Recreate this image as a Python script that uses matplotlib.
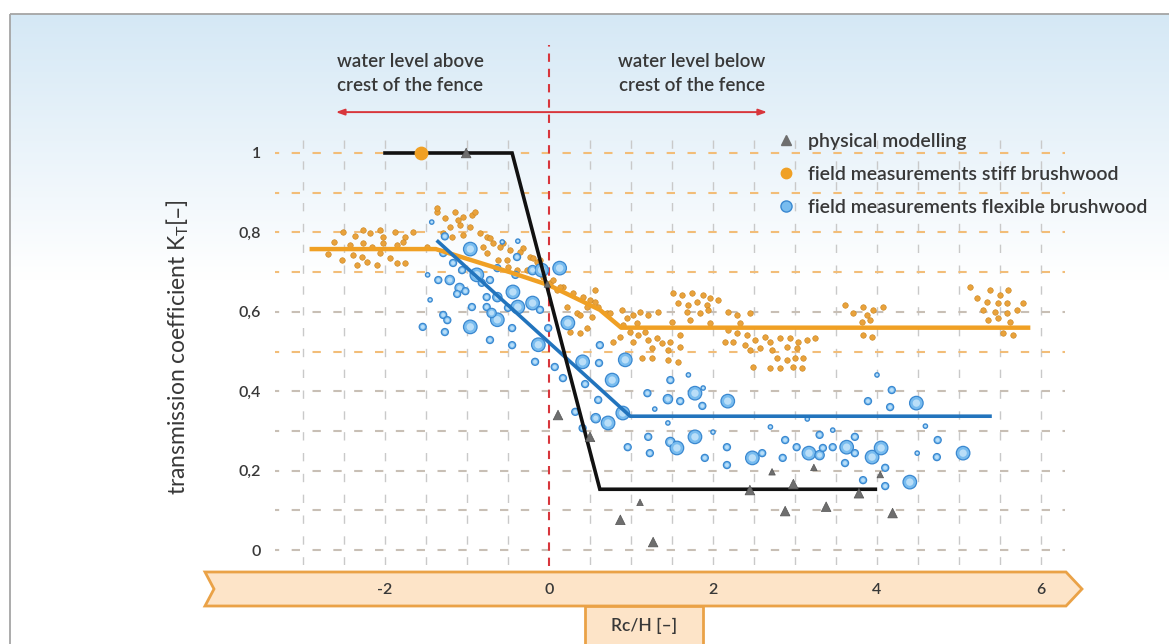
import numpy as np
import matplotlib
matplotlib.use("Agg")
import matplotlib.pyplot as plt
from matplotlib.patches import Polygon
from matplotlib.lines import Line2D

plt.rcParams['font.family'] = ['Lato', 'DejaVu Sans']
plt.rcParams['font.weight'] = 'semibold'
plt.rcParams['mathtext.default'] = 'regular'
plt.rcParams['lines.scale_dashes'] = False

# ---------------- data ----------------
x_ticks = [-2, 0, 2, 4, 6]
x_tick_labels = ['-2', '0', '2', '4', '6']
y_ticks = [0, 0.2, 0.4, 0.6, 0.8, 1.0]
y_tick_labels = ['0', '0,2', '0,4', '0,6', '0,8', '1']

# fitted lines
phys_fit_x = [-2.0, -0.45, 0.62, 3.98]
phys_fit_y = [1.0, 1.0, 0.153, 0.153]
stiff_fit_x = [-2.92, -1.38, -0.48, 0.0, 0.62, 0.88, 5.87]
stiff_fit_y = [0.758, 0.758, 0.700, 0.667, 0.605, 0.560, 0.560]
flex_fit_x = [-1.37, 0.99, 5.40]
flex_fit_y = [0.780, 0.337, 0.337]

# physical modelling (triangles)
tri_x = [-1.01, -0.02, 0.11, 0.50, 0.87, 1.11, 1.27, 2.45, 2.72, 2.88, 2.98, 3.23, 3.38, 3.78, 4.04, 4.19]
tri_y = [1.00, 0.67, 0.34, 0.285, 0.076, 0.12, 0.02, 0.151, 0.197, 0.098, 0.166, 0.208, 0.109, 0.143, 0.19, 0.093]
tri_big = [1, 0, 1, 1, 1, 0, 1, 1, 0, 1, 1, 0, 1, 1, 0, 1]

# stiff brushwood reference point on the K=1 plateau
stiff_ref_x = [-1.56]
stiff_ref_y = [1.0]

# field measurements stiff brushwood (small orange dots)
orange_x = [
    -2.51, -2.37, -2.27, -2.18, -2.06, -2.02, -1.88, -1.76, -1.66,
    -2.43, -2.27, -2.16, -2.02, -1.85, -1.78,
    -2.52, -2.39, -2.28, -2.22, -2.06, -1.94, -1.85, -1.76, -2.34, -2.10, -1.49, -2.62, -2.70,
    -1.37, -1.27, -1.15, -1.05, -0.94, -1.21, -1.09, -0.96, -1.29, -1.18, -1.05, -0.84, -0.76,
    -0.68, -0.56, -0.80, -0.48, -0.32, -0.23, -0.62, -0.50, -0.39, -0.27, -0.15, -0.07, 0.01,
    0.10, 0.17, 0.29, 0.41, 0.46, 0.34, 0.22, 0.52,
    -1.37, -0.90, -1.11, -0.72, -0.60, -0.35, -0.20, -0.76, -0.51, -0.11, 0.05, 0.13,
    0.50, 0.60, 0.38, 0.71, 0.26, 0.38, 0.46,
    0.56, 0.56, 0.74, 0.89, 0.95, 1.02, 1.11, 1.21, 1.33, 0.90, 1.07, 0.99, 1.09, 1.17, 0.87,
    0.78, 1.02, 1.21, 1.32, 1.38, 1.48, 1.26, 1.45, 1.13, 1.26, 1.45, 1.57, 1.60,
    1.51, 1.62, 1.74, 1.88, 1.96, 2.06, 1.57, 1.70, 1.80, 1.93, 1.68, 1.84, 1.94, 1.50, 1.72,
    1.96, 1.60,
    2.18, 2.29, 2.45, 2.33, 2.18, 2.29, 2.41, 2.15, 2.24, 2.39, 2.51, 2.63, 2.70, 2.45, 2.57,
    2.72, 2.82, 2.94, 3.04, 3.15, 3.24, 2.90, 3.02, 2.78, 2.90, 3.00, 3.10, 2.70, 2.82, 2.98,
    3.09, 2.49,
    3.61, 3.83, 3.95, 4.07, 3.71, 3.88, 3.82, 3.91, 3.83, 3.94,
    5.13, 5.38, 5.50, 5.60, 5.22, 5.34, 5.48, 5.59, 5.78, 5.29, 5.44, 5.59, 5.71, 5.35, 5.48,
    5.62, 5.54, 5.66,
]
orange_y = [
    0.801, 0.791, 0.806, 0.798, 0.806, 0.788, 0.801, 0.788, 0.801,
    0.768, 0.773, 0.763, 0.773, 0.768, 0.776,
    0.730, 0.743, 0.738, 0.725, 0.748, 0.736, 0.723, 0.723, 0.718, 0.718, 0.763, 0.775, 0.745,
    0.851, 0.836, 0.851, 0.839, 0.844, 0.814, 0.819, 0.814, 0.798, 0.788, 0.793, 0.798, 0.788,
    0.773, 0.773, 0.763, 0.756, 0.761, 0.738, 0.730, 0.713, 0.705, 0.705, 0.725, 0.688, 0.673,
    0.655, 0.662, 0.647, 0.637, 0.612, 0.597, 0.612, 0.587,
    0.861, 0.851, 0.831, 0.786, 0.763, 0.751, 0.736, 0.748, 0.730, 0.730, 0.680, 0.662,
    0.630, 0.612, 0.592, 0.597, 0.549, 0.547, 0.559,
    0.655, 0.625, 0.597, 0.605, 0.584, 0.592, 0.599, 0.592, 0.599, 0.567, 0.572, 0.549, 0.542, 0.549, 0.537,
    0.524, 0.524, 0.529, 0.534, 0.521, 0.524, 0.509, 0.504, 0.484, 0.484, 0.479, 0.474, 0.511,
    0.647, 0.642, 0.647, 0.642, 0.635, 0.630, 0.622, 0.617, 0.625, 0.617, 0.599, 0.597, 0.605, 0.574, 0.579,
    0.572, 0.542,
    0.599, 0.592, 0.597, 0.572, 0.554, 0.547, 0.542, 0.524, 0.524, 0.516, 0.529, 0.537, 0.524, 0.504, 0.509,
    0.504, 0.534, 0.534, 0.524, 0.529, 0.534, 0.511, 0.509, 0.484, 0.479, 0.484, 0.484, 0.458, 0.458, 0.461,
    0.458, 0.461,
    0.617, 0.612, 0.605, 0.612, 0.597, 0.592, 0.574, 0.579, 0.542, 0.537,
    0.662, 0.655, 0.642, 0.655, 0.635, 0.625, 0.622, 0.622, 0.622, 0.605, 0.599, 0.597, 0.605, 0.579, 0.584,
    0.574, 0.547, 0.542,
]

# field measurements flexible brushwood (blue circles; size class L/M/S/T)
blue_x = [
    -1.43, -1.27, -0.96, -1.29, -1.17, -1.06, -1.35, -1.21, -1.09, -1.02, -1.12, -1.48, -0.88,
    -0.72, -0.82, -0.63, -0.57, -0.38, -0.39, -0.41, -0.44, -0.20, -0.09, 0.13, -0.63, -0.76,
    -0.76, -0.94, -0.63, -0.70, -0.50, -0.38, -0.20, -0.11, 0.23, -1.45, -1.29, -1.24, -1.54,
    -1.27, -0.96, -0.72, -0.45, -0.45, -0.13, -0.01, -0.17,
    0.07, 0.62, 0.93, 0.41, 0.61, 0.77, 0.17, 0.44, 0.60, 0.32, 0.57, 0.72, 0.90, 0.41,
    1.20, 1.29, 1.45, 1.60, 1.78, 1.87, 1.88, 1.70, 1.48, 2.18, 1.45, 1.21, 0.96, 1.23, 1.48,
    1.56, 1.78, 2.00, 1.90, 2.17, 2.17, 2.48, 2.60, 2.70, 2.85, 2.88, 3.02, 3.17, 3.30, 3.34,
    3.30, 3.46, 3.46, 3.63, 3.73, 3.73, 3.61, 3.94, 4.05, 4.10, 3.83, 4.10, 4.40, 3.89, 4.16,
    4.18, 4.48, 4.00, 4.59, 4.74, 4.73, 5.05, 3.15, 4.49,
]
blue_y = [
    0.826, 0.790, 0.758, 0.748, 0.723, 0.705, 0.680, 0.680, 0.660, 0.652, 0.645, 0.693, 0.693,
    0.680, 0.673, 0.710, 0.776, 0.778, 0.738, 0.693, 0.650, 0.705, 0.705, 0.710, 0.637, 0.637,
    0.612, 0.612, 0.580, 0.597, 0.610, 0.612, 0.622, 0.605, 0.572, 0.630, 0.592, 0.579, 0.562,
    0.549, 0.562, 0.529, 0.559, 0.516, 0.517, 0.559, 0.474,
    0.461, 0.516, 0.479, 0.474, 0.471, 0.428, 0.433, 0.418, 0.378, 0.348, 0.332, 0.320, 0.345, 0.307,
    0.395, 0.355, 0.380, 0.375, 0.395, 0.363, 0.408, 0.441, 0.428, 0.375, 0.320, 0.285, 0.259, 0.244, 0.272,
    0.257, 0.285, 0.297, 0.232, 0.259, 0.214, 0.232, 0.244, 0.310, 0.232, 0.277, 0.259, 0.244, 0.239, 0.257,
    0.290, 0.302, 0.259, 0.259, 0.285, 0.244, 0.219, 0.234, 0.257, 0.207, 0.176, 0.161, 0.171, 0.375, 0.360,
    0.403, 0.370, 0.441, 0.312, 0.277, 0.234, 0.244, 0.330, 0.244,
]
blue_cls = list(
    "TSLSSSSMMSSTL"
    "SSSTTSSLMLLMS"
    "SSLMSLLSLTSSS"
    "SLSSSLSS"
    "SSLLSLSSSSMLLS"
    "STMSLSTTSLTSSSM"
    "LLTSSSLSTSSSLMS"
    "STSLSSSLLSSSLSS"
    "SLTTSSLTT"
)

# ---------------- figure ----------------
W, H = 1169, 644
fig = plt.figure(figsize=(W / 100, H / 100), dpi=100)
txt_col = '#383838'

# background / decoration axes in pixel units
bg = fig.add_axes([0, 0, 1, 1], zorder=0)
bg.set_xlim(0, W)
bg.set_ylim(H, 0)
bg.axis('off')

top_col = np.array([0.835, 0.910, 0.962])
n = 300
t = np.clip(np.linspace(0, 1, n) / 0.42, 0, 1)[:, None]
rgb = top_col[None, :] * (1 - t) + np.array([1.0, 1.0, 1.0])[None, :] * t
img = np.repeat(rgb[:, None, :], 2, axis=1)
bg.imshow(img, extent=[10, W, H, 14], aspect='auto', interpolation='bilinear', zorder=0)
bg.plot([10, 10], [H, 14], color='#a5a5a5', lw=1.3, zorder=1, solid_capstyle='butt')
bg.plot([10, W], [14, 14], color='#a5a5a5', lw=1.3, zorder=1, solid_capstyle='butt')

band_col = '#fde4c8'
band_edge = '#eaa247'
band = Polygon([(205, 572), (1066, 572), (1082, 589), (1066, 606), (205, 606), (214, 589)],
               closed=True, facecolor=band_col, edgecolor=band_edge, lw=2, zorder=2)
bg.add_patch(band)
box = Polygon([(585, 660), (585, 606), (703, 606), (703, 660)], closed=False,
              facecolor=band_col, edgecolor=band_edge, lw=2, zorder=3)
bg.add_patch(box)
bg.text(644, 626, 'Rc/H [–]', ha='center', va='center', fontsize=12.5, color=txt_col, zorder=4)

# main data axes
L, R, B, T = 275, 1065, 565, 137
ax = fig.add_axes([L / W, 1 - B / H, (R - L) / W, (B - T) / H], zorder=2)
ax.patch.set_alpha(0)
ax.set_xlim((L - 549) / 82, (R - 549) / 82)
ax.set_ylim((550 - B) / 397, (550 - T) / 397)
for s in ax.spines.values():
    s.set_visible(False)

# grid
grid_x = [-3.0, -2.5, -2.0, -1.5, -1.0, -0.5, 0.5, 1.0, 1.5, 2.0, 2.5, 3.0, 3.5, 4.0, 4.5, 5.0, 5.5, 6.0]
grid_y = [0.0, 0.1, 0.2, 0.3, 0.4, 0.5, 0.6, 0.7, 0.8, 0.9, 1.0]
orange_rows = [0.5, 0.7, 0.8, 0.9, 1.0]
for gx in grid_x:
    ax.axvline(gx, color='#c9c9c9', lw=1.0, ls=(0, (6, 9)), zorder=1)
for gy in grid_y:
    c = '#f2bd78' if gy in orange_rows else '#c8bfb5'
    ax.axhline(gy, color=c, lw=1.5, ls=(3, (6, 9)), zorder=1)

# red dashed line at Rc/H = 0
ax.plot([0, 0], [-0.04, 1.272], color='#d8363c', lw=1.5, ls=(0, (6, 5)), clip_on=False, zorder=2)
ax.annotate('', xy=(-2.60, 1.103), xytext=(2.66, 1.103), annotation_clip=False,
            arrowprops=dict(arrowstyle='<|-|>,head_length=0.5,head_width=0.18', color='#d8363c',
                            lw=1.4, shrinkA=0, shrinkB=0))
ax.text(-2.585, 1.252, 'water level above\ncrest of the fence', ha='left', va='top',
        fontsize=13.5, color=txt_col, linespacing=1.5, clip_on=False)
ax.text(2.634, 1.252, 'water level below\ncrest of the fence', ha='right', va='top',
        fontsize=13.5, color=txt_col, linespacing=1.5, clip_on=False)

# scatter data
ax.scatter(orange_x, orange_y, s=16, color='#e9a23b', edgecolors='#c9841f', linewidths=0.4, zorder=3)
size_map = {'L': 95, 'M': 45, 'S': 26, 'T': 10}
bs = np.array([size_map[c] for c in blue_cls])
ax.scatter(blue_x, blue_y, s=bs, color='#78bcef', edgecolors='#3a88d0', linewidths=0.9, zorder=4)
ax.scatter(blue_x, blue_y, s=bs * 0.3, color='#b9def8', edgecolors='none', zorder=4)

ax.plot(stiff_fit_x, stiff_fit_y, color='#f0a024', lw=3.2, zorder=5, solid_capstyle='butt')
ax.plot(flex_fit_x, flex_fit_y, color='#2274bd', lw=2.6, zorder=5, solid_capstyle='butt')
ax.plot(phys_fit_x, phys_fit_y, color='#111111', lw=2.6, zorder=6, solid_joinstyle='miter')

tsize = np.array([48 if b else 22 for b in tri_big])
ax.scatter(tri_x, tri_y, s=tsize, marker='^', color='#6e6e6e', edgecolors='#555555', linewidths=0.5, zorder=7)
ax.scatter(stiff_ref_x, stiff_ref_y, s=80, color='#f0a024', zorder=7)

# ticks
ax.set_xticks(x_ticks, x_tick_labels)
ax.set_yticks(y_ticks, y_tick_labels)
ax.tick_params(axis='both', length=0, labelsize=11.5, labelcolor=txt_col)
ax.tick_params(axis='y', pad=10)
ax.tick_params(axis='x', pad=13)

fig.text(178 / W, 1 - 347 / H, 'transmission coefficient K$_T$[–]', rotation=90,
         ha='center', va='center', fontsize=16.5, fontweight='normal', color=txt_col)

handles = [
    Line2D([], [], ls='none', marker='^', ms=6.5, color='#6e6e6e'),
    Line2D([], [], ls='none', marker='o', ms=7.5, color='#f0a024'),
    Line2D([], [], ls='none', marker='o', ms=8, markerfacecolor='#78bcef', markeredgecolor='#3a88d0'),
]
labels = ['physical modelling', 'field measurements stiff brushwood',
          'field measurements flexible brushwood']
fig.legend(handles, labels, loc='upper left', bbox_to_anchor=(767 / W, 1 - 123 / H),
           frameon=False, fontsize=14, handlelength=1.0, handletextpad=0.6,
           labelspacing=0.83, borderpad=0, labelcolor=txt_col)

fig.savefig('out.png', dpi=100)
